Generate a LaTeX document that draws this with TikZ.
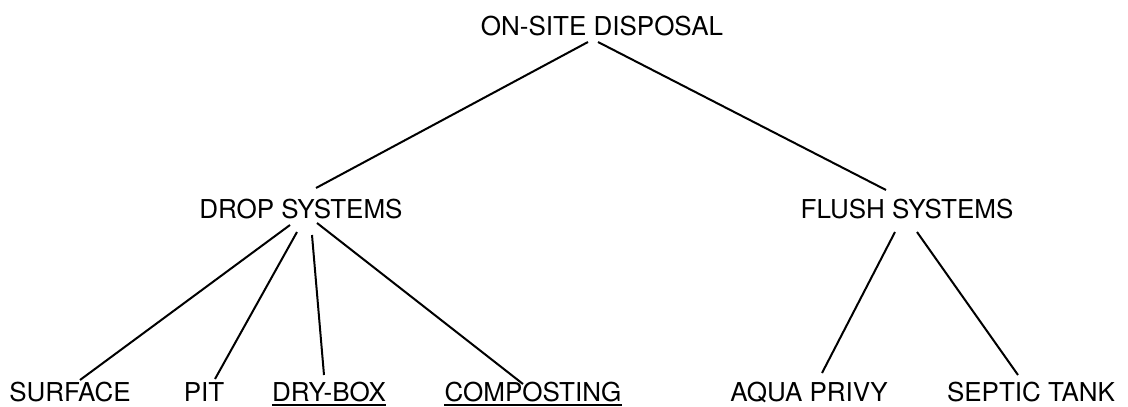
\documentclass[tikz,border=0pt]{standalone}
\usepackage{fontspec}
\setmainfont{TeX Gyre Heros}
\begin{document}
\begin{tikzpicture}[x=1pt,y=-1pt,
  lbl/.style={inner sep=0pt, anchor=base, font=\fontsize{26}{30}\selectfont},
  link/.style={line width=2pt},
  ul/.style={line width=2.5pt}]
\useasboundingbox (0,0) rectangle (1128,407);
\node[lbl] (top) at (602,35) {ON-SITE DISPOSAL};
\node[lbl] (drop) at (301,218) {DROP SYSTEMS};
\node[lbl] (flush) at (907,218) {FLUSH SYSTEMS};
\node[lbl] (surf) at (70,401) {SURFACE};
\node[lbl] (pit) at (204,401) {PIT};
\node[lbl] (dry) at (329,401) {DRY-BOX};
\node[lbl] (comp) at (533,401) {COMPOSTING};
\node[lbl] (aqua) at (809,401) {AQUA PRIVY};
\node[lbl] (sept) at (1031,401) {SEPTIC TANK};
% top level
\draw[link] ([xshift=-14pt,yshift=-7pt]top.base) -- ([xshift=15pt,yshift=30pt]drop.base);
\draw[link] ([xshift=-4pt,yshift=-7pt]top.base) -- ([xshift=-21pt,yshift=28pt]flush.base);
% drop systems
\draw[link] ([xshift=-11pt,yshift=-7pt]drop.base) -- ([xshift=10pt,yshift=21pt]surf.base);
\draw[link] ([xshift=-4pt,yshift=-14pt]drop.base) -- ([xshift=11pt,yshift=22pt]pit.base);
\draw[link] ([xshift=11pt,yshift=-17pt]drop.base) -- ([xshift=-5pt,yshift=26pt]dry.base);
\draw[link] ([xshift=16pt,yshift=-5pt]drop.base) -- ([xshift=-10pt,yshift=17pt]comp.base);
% flush systems
\draw[link] ([xshift=-12pt,yshift=-14pt]flush.base) -- ([xshift=13pt,yshift=28pt]aqua.base);
\draw[link] ([xshift=10pt,yshift=-14pt]flush.base) -- ([xshift=-13pt,yshift=26pt]sept.base);
% underlines
\draw[ul] ([yshift=-4pt]dry.base west) -- ([yshift=-4pt]dry.base east);
\draw[ul] ([yshift=-4pt]comp.base west) -- ([yshift=-4pt]comp.base east);
\end{tikzpicture}
\end{document}
